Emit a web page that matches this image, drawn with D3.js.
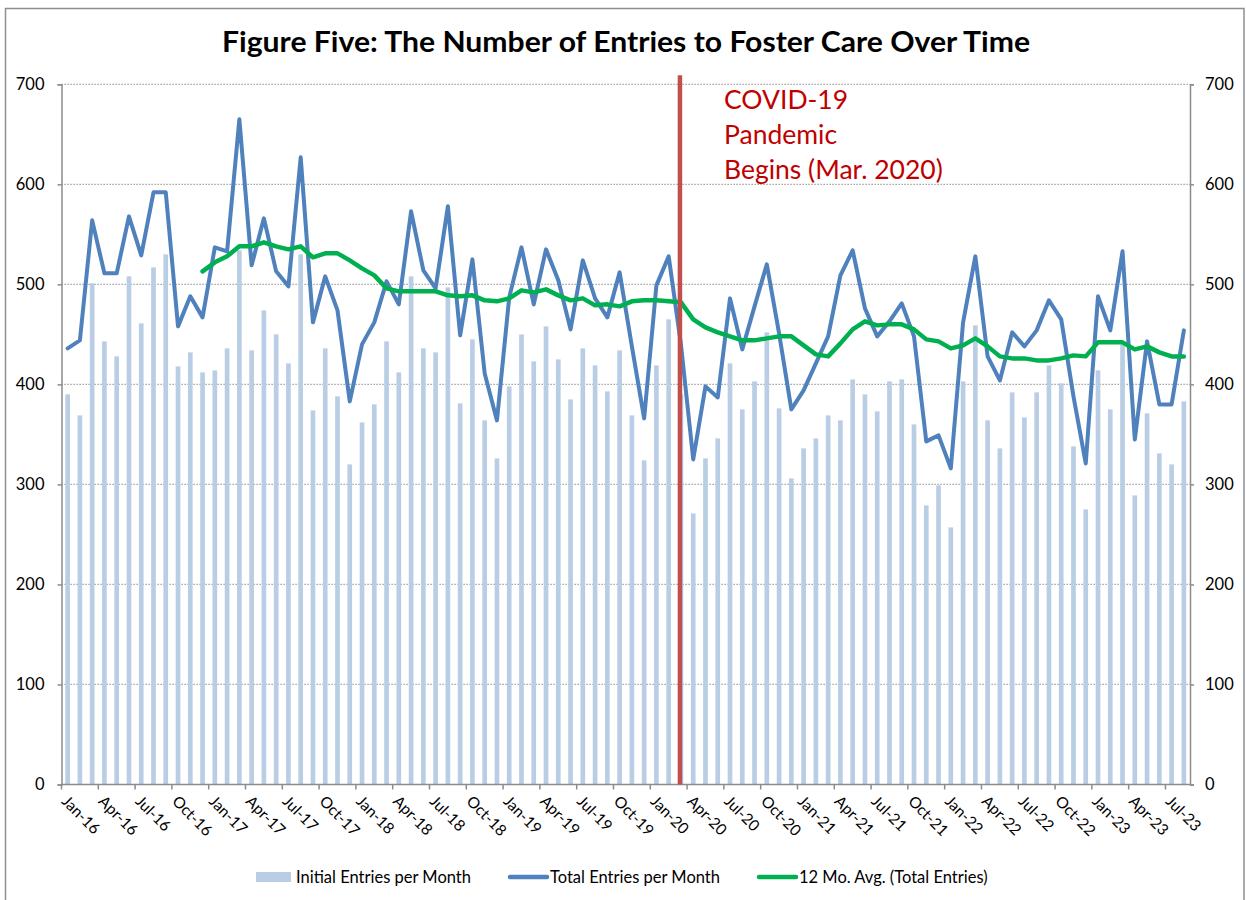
<!DOCTYPE html>
<html>
<head>
<meta charset="utf-8">
<script src="https://cdn.jsdelivr.net/npm/d3@7"></script>
<style>
  body { margin: 0; background: #fff; }
  text { font-family: Lato, "Open Sans", sans-serif; }
</style>
</head>
<body>
<div id="chart"></div>
<script>
// months on the category axis (Jan-16 .. Aug-23)
var months = [
  "Jan-16","Feb-16","Mar-16","Apr-16","May-16","Jun-16","Jul-16","Aug-16","Sep-16","Oct-16","Nov-16","Dec-16",
  "Jan-17","Feb-17","Mar-17","Apr-17","May-17","Jun-17","Jul-17","Aug-17","Sep-17","Oct-17","Nov-17","Dec-17",
  "Jan-18","Feb-18","Mar-18","Apr-18","May-18","Jun-18","Jul-18","Aug-18","Sep-18","Oct-18","Nov-18","Dec-18",
  "Jan-19","Feb-19","Mar-19","Apr-19","May-19","Jun-19","Jul-19","Aug-19","Sep-19","Oct-19","Nov-19","Dec-19",
  "Jan-20","Feb-20","Mar-20","Apr-20","May-20","Jun-20","Jul-20","Aug-20","Sep-20","Oct-20","Nov-20","Dec-20",
  "Jan-21","Feb-21","Mar-21","Apr-21","May-21","Jun-21","Jul-21","Aug-21","Sep-21","Oct-21","Nov-21","Dec-21",
  "Jan-22","Feb-22","Mar-22","Apr-22","May-22","Jun-22","Jul-22","Aug-22","Sep-22","Oct-22","Nov-22","Dec-22",
  "Jan-23","Feb-23","Mar-23","Apr-23","May-23","Jun-23","Jul-23","Aug-23"
];

var initialEntries = [
  390,369,501,443,428,508,461,517,530,418,432,412,
  414,436,534,434,474,450,421,530,374,436,388,320,
  362,380,443,412,508,436,432,497,381,445,364,326,
  398,450,423,458,425,385,436,419,393,434,369,324,
  419,465,390,271,326,346,421,375,403,452,376,306,
  336,346,369,364,405,390,373,403,405,360,279,299,
  257,403,459,364,336,392,367,392,419,401,338,275,
  414,375,440,289,371,331,320,383
];

var totalEntries = [
  436,444,564,511,511,568,529,592,592,458,488,467,
  537,533,665,519,566,513,498,627,462,508,474,383,
  440,462,503,480,573,514,496,578,449,525,411,364,
  487,537,480,535,504,455,524,486,467,512,438,366,
  499,528,440,325,398,387,486,435,478,520,451,375,
  394,421,448,509,534,476,448,463,481,448,343,349,
  316,462,528,428,404,452,438,454,484,465,388,321,
  488,454,533,345,443,380,380,454
];

// 12 month rolling average, starts Dec-16
var avgEntries = [
  null,null,null,null,null,null,null,null,null,null,null,513,
  522,528,538,538,542,538,535,538,527,531,531,524,
  516,509,496,493,493,493,493,489,488,489,484,483,
  486,494,492,495,489,484,486,479,480,478,483,484,
  484,483,482,465,457,452,448,444,444,446,448,448,
  439,430,428,441,455,463,459,460,460,455,445,443,
  436,439,446,438,428,426,426,424,424,426,429,428,
  442,442,442,435,438,432,428,428
];

var yTicks = [0, 100, 200, 300, 400, 500, 600, 700];
var tickMonths = months.filter(function(m, i) { return i % 3 === 0; });

var covidMonth = "Mar-20";
var covidTop = 709;
var covidNote = ["COVID-19", "Pandemic", "Begins (Mar. 2020)"];

var titleText = "Figure Five: The Number of Entries to Foster Care Over Time";
var seriesNames = ["Initial Entries per Month", "Total Entries per Month", "12 Mo. Avg. (Total Entries)"];

var width = 1246, height = 900;
var margin = {left: 61.5, right: 56, top: 84.3, bottom: 115.5};

var barColor = "#b9cde5", totalColor = "#4f81bd", avgColor = "#00b050";
var axisColor = "#8c8c8c";

var svg = d3.select("#chart").append("svg")
    .attr("width", width)
    .attr("height", height);

// outer chart border
svg.append("rect")
    .attr("x", 5.5).attr("y", 8.5)
    .attr("width", 1238.5).attr("height", 900)
    .attr("fill", "none")
    .attr("stroke", "#8e8e8e")
    .attr("stroke-width", 1.5);

svg.append("text")
    .attr("x", 626).attr("y", 52)
    .attr("text-anchor", "middle")
    .attr("font-size", 29)
    .attr("font-weight", "bold")
    .attr("fill", "#000")
    .attr("textLength", 808)
    .attr("lengthAdjust", "spacingAndGlyphs")
    .text(titleText);

var x = d3.scaleBand()
    .domain(months)
    .range([margin.left, width - margin.right])
    .paddingInner(0.62)
    .paddingOuter(0.31);

var y = d3.scaleLinear()
    .domain([0, 700])
    .range([height - margin.bottom, margin.top]);

var cx = function(m) { return x(m) + x.bandwidth() / 2; };
var edge = function(m) { return x(m) - x.step() * x.paddingOuter(); };

// dotted gridlines
svg.append("g")
    .selectAll("line")
    .data(yTicks.filter(function(t) { return t > 0; }))
    .join("line")
    .attr("x1", margin.left).attr("x2", width - margin.right)
    .attr("y1", function(d) { return y(d); })
    .attr("y2", function(d) { return y(d); })
    .attr("stroke", "#8c8c8c")
    .attr("stroke-width", 1.2)
    .attr("stroke-dasharray", "1.2,1.8");

// left y axis
var yl = svg.append("g")
    .attr("transform", "translate(" + margin.left + ",0)")
    .call(d3.axisLeft(y).tickValues(yTicks).tickSize(4).tickPadding(13));
// right y axis
var yr = svg.append("g")
    .attr("transform", "translate(" + (width - margin.right) + ",0)")
    .call(d3.axisRight(y).tickValues(yTicks).tickSize(4).tickPadding(11));

[yl, yr].forEach(function(a) {
    a.select(".domain").attr("stroke", axisColor).attr("stroke-width", 1.5);
    a.selectAll(".tick line").attr("stroke", axisColor).attr("stroke-width", 1.5);
    a.selectAll("text").attr("font-size", 16.5).attr("fill", "#000")
        .style("font-family", "Lato, sans-serif");
});

// bars
svg.append("g")
    .selectAll("rect")
    .data(months)
    .join("rect")
    .attr("x", function(m) { return x(m); })
    .attr("width", x.bandwidth())
    .attr("y", function(m, i) { return y(initialEntries[i]); })
    .attr("height", function(m, i) { return y(0) - y(initialEntries[i]); })
    .attr("fill", barColor);

// x axis
var xa = svg.append("g");
xa.append("line")
    .attr("x1", margin.left).attr("x2", width - margin.right)
    .attr("y1", y(0)).attr("y2", y(0))
    .attr("stroke", axisColor).attr("stroke-width", 1.5);
xa.selectAll(".xt")
    .data(tickMonths)
    .join("line")
    .attr("class", "xt")
    .attr("x1", edge).attr("x2", edge)
    .attr("y1", y(0)).attr("y2", y(0) + 5)
    .attr("stroke", axisColor).attr("stroke-width", 1.5);
xa.selectAll(".xl")
    .data(tickMonths)
    .join("text")
    .attr("class", "xl")
    .attr("transform", function(m) {
        return "translate(" + (cx(m) - 3) + "," + (y(0) + 14) + ") rotate(45)";
    })
    .attr("dy", "0.35em")
    .attr("font-size", 15.5)
    .attr("fill", "#000")
    .text(function(m) { return m; });

// total entries line
var totalLine = d3.line()
    .x(function(d, i) { return cx(months[i]); })
    .y(function(d) { return y(d); });
svg.append("path")
    .datum(totalEntries)
    .attr("fill", "none")
    .attr("stroke", totalColor)
    .attr("stroke-width", 4)
    .attr("stroke-linejoin", "round")
    .attr("stroke-linecap", "round")
    .attr("d", totalLine);

// 12 month average line
var avgLine = d3.line()
    .defined(function(d) { return d != null; })
    .x(function(d, i) { return cx(months[i]); })
    .y(function(d) { return y(d); });
svg.append("path")
    .datum(avgEntries)
    .attr("fill", "none")
    .attr("stroke", avgColor)
    .attr("stroke-width", 4.5)
    .attr("stroke-linejoin", "round")
    .attr("stroke-linecap", "round")
    .attr("d", avgLine);

// covid marker
svg.append("line")
    .attr("x1", cx(covidMonth) - 1).attr("x2", cx(covidMonth) - 1)
    .attr("y1", y(0)).attr("y2", y(covidTop))
    .attr("stroke", "#c0504d")
    .attr("stroke-width", 4.5);

svg.append("g")
    .selectAll("text")
    .data(covidNote)
    .join("text")
    .attr("x", 724)
    .attr("y", function(d, i) { return 109 + i * 35; })
    .attr("font-size", 26.5)
    .attr("fill", "#c00000")
    .text(function(d) { return d; });

// legend
var legend = svg.append("g").attr("transform", "translate(256,877)");
var lx = 0;
seriesNames.forEach(function(name, i) {
    var g = legend.append("g").attr("transform", "translate(" + lx + ",0)");
    if (i === 0) {
        g.append("rect").attr("x", 0).attr("y", -5).attr("width", 35).attr("height", 10).attr("fill", barColor);
    } else {
        g.append("line").attr("x1", 2).attr("x2", 39).attr("y1", 0).attr("y2", 0)
            .attr("stroke", i === 1 ? totalColor : avgColor)
            .attr("stroke-width", 4.5).attr("stroke-linecap", "round");
    }
    var t = g.append("text")
        .attr("x", i === 0 ? 40 : 42)
        .attr("y", 5.5)
        .attr("font-size", 16.5)
        .attr("fill", "#000")
        .text(name);
    lx += (i === 0 ? 40 : 42) + t.node().getComputedTextLength() + 37;
});
</script>
</body>
</html>
